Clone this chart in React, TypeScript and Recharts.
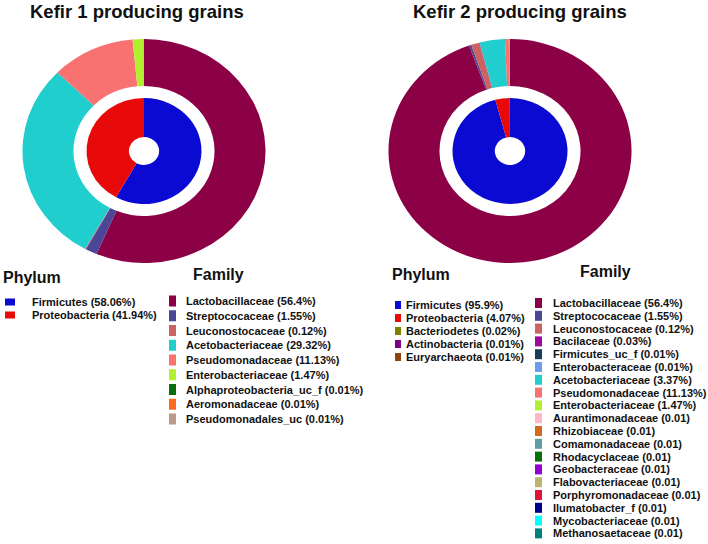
import React from 'react';
import { PieChart, Pie, Cell } from 'recharts';

// Kefir 1
const k1PhylumNames = ['Firmicutes (58.06%)', 'Proteobacteria (41.94%)'];
const k1PhylumValues = [58.06, 41.94];
const k1PhylumColors = ['#0a0ad2', '#e80a0a'];

const k1FamilyNames = [
    'Lactobacillaceae (56.4%)',
    'Streptococaceae (1.55%)',
    'Leuconostocaceae (0.12%)',
    'Acetobacteriaceae (29.32%)',
    'Pseudomonadaceae (11.13%)',
    'Enterobacteriaceae (1.47%)',
    'Alphaproteobacteria_uc_f (0.01%)',
    'Aeromonadaceae (0.01%)',
    'Pseudomonadales_uc (0.01%)',
];
const k1FamilyValues = [56.4, 1.55, 0.12, 29.32, 11.13, 1.47, 0.01, 0.01, 0.01];
const k1FamilyColors = ['#8c0046', '#4b4696', '#cc6262', '#20cece', '#f87272', '#b0f030', '#0a6e0a', '#ff6a20', '#bc9a88'];

// Kefir 2
const k2PhylumNames = [
    'Firmicutes (95.9%)',
    'Proteobacteria (4.07%)',
    'Bacteriodetes (0.02%)',
    'Actinobacteria (0.01%)',
    'Euryarchaeota (0.01%)',
];
const k2PhylumValues = [95.9, 4.07, 0.02, 0.01, 0.01];
const k2PhylumColors = ['#0a0ad2', '#e80a0a', '#808000', '#800080', '#8b4513'];

const k2FamilyNames = [
    'Lactobacillaceae (56.4%)',
    'Streptococaceae (1.55%)',
    'Leuconostocaceae (0.12%)',
    'Bacilaceae (0.03%)',
    'Firmicutes_uc_f (0.01%)',
    'Enterobacteraceae (0.01%)',
    'Acetobacteriaceae (3.37%)',
    'Pseudomonadaceae (11.13%)',
    'Enterobacteriaceae (1.47%)',
    'Aurantimonadaceae (0.01)',
    'Rhizobiaceae (0.01)',
    'Comamonadaceae (0.01)',
    'Rhodacyclaceae (0.01)',
    'Geobacteraceae (0.01)',
    'Flabovacteriaceae (0.01)',
    'Porphyromonadaceae (0.01)',
    'Ilumatobacter_f (0.01)',
    'Mycobacteriaceae (0.01)',
    'Methanosaetaceae (0.01)',
];
// values as drawn in the ring (not the legend text)
const k2FamilyValues = [94.5, 0.3, 1.1, 0.03, 0.01, 0.01, 3.37, 0.5, 0.05, 0.01, 0.01, 0.01, 0.01, 0.01, 0.01, 0.01, 0.01, 0.01, 0.01];
const k2FamilyColors = [
    '#8c0046', '#4b4696', '#cc6262', '#9a0aa0', '#153c5a', '#6b9cf0', '#20cece', '#f87272', '#b0f030',
    '#ffb6c8', '#d2691e', '#5f9ea0', '#0a700a', '#9400d3', '#bdb470', '#dc143c', '#00008b', '#00ffff', '#008080',
];

const FONT = '"Liberation Sans", Arial, sans-serif';

type DonutProps = {
    left: number;
    top: number;
    innerValues: number[];
    innerColors: string[];
    outerValues: number[];
    outerColors: string[];
};

const Donut: React.FC<DonutProps> = ({ left, top, innerValues, innerColors, outerValues, outerColors }) => {
    const inner = innerValues.map((value, i) => ({ name: `p${i}`, value }));
    const outer = outerValues.map((value, i) => ({ name: `f${i}`, value }));
    return (
        <div style={{ position: 'absolute', left, top, width: 260, height: 240, transform: 'scaleX(1.085)', transformOrigin: '130px 120px' }}>
            <PieChart width={260} height={240} margin={{ top: 0, right: 0, bottom: 0, left: 0 }}>
                <Pie data={inner} dataKey="value" cx={130} cy={120} innerRadius={14} outerRadius={53}
                    startAngle={90} endAngle={-270} stroke="none" isAnimationActive={false}>
                    {inner.map((_, i) => <Cell key={i} fill={innerColors[i]} stroke="none" />)}
                </Pie>
                <Pie data={outer} dataKey="value" cx={130} cy={120} innerRadius={65} outerRadius={112}
                    startAngle={90} endAngle={-270} stroke="none" isAnimationActive={false}>
                    {outer.map((_, i) => <Cell key={i} fill={outerColors[i]} stroke="none" />)}
                </Pie>
            </PieChart>
        </div>
    );
};

type LegendProps = {
    names: string[];
    colors: string[];
    boxX: number;
    textX: number;
    y0: number;
    step: number;
    boxW: number;
    boxH: number;
};

const LegendList: React.FC<LegendProps> = ({ names, colors, boxX, textX, y0, step, boxW, boxH }) => (
    <g>
        {names.map((n, i) => {
            const cy = y0 + i * step;
            return (
                <g key={n}>
                    <rect x={boxX} y={cy - boxH / 2} width={boxW} height={boxH} fill={colors[i]} />
                    <text x={textX} y={cy + 4} fontSize={11} fontWeight="bold" fill="#111">{n}</text>
                </g>
            );
        })}
    </g>
);

export default function App() {
    return (
        <div style={{ position: 'absolute', left: 0, top: 0, width: 708, height: 544, background: '#fff', fontFamily: FONT }}>
            <Donut left={13.5} top={31} innerValues={k1PhylumValues} innerColors={k1PhylumColors}
                outerValues={k1FamilyValues} outerColors={k1FamilyColors} />
            <Donut left={379.5} top={31} innerValues={k2PhylumValues} innerColors={k2PhylumColors}
                outerValues={k2FamilyValues} outerColors={k2FamilyColors} />
            <svg width={708} height={544} style={{ position: 'absolute', left: 0, top: 0, fontFamily: FONT }}>
                <text x={30} y={18} fontSize={18.5} fontWeight="bold" fill="#111">Kefir 1 producing grains</text>
                <text x={413} y={18} fontSize={18.5} fontWeight="bold" fill="#111">Kefir 2 producing grains</text>

                <text x={3} y={283} fontSize={16} fontWeight="bold" fill="#111">Phylum</text>
                <text x={193} y={280} fontSize={16} fontWeight="bold" fill="#111">Family</text>
                <text x={392} y={280} fontSize={16} fontWeight="bold" fill="#111">Phylum</text>
                <text x={580} y={277} fontSize={16} fontWeight="bold" fill="#111">Family</text>

                <LegendList names={k1PhylumNames} colors={k1PhylumColors} boxX={5} textX={32} y0={302} step={13} boxW={10} boxH={7} />
                <LegendList names={k1FamilyNames} colors={k1FamilyColors} boxX={169} textX={186} y0={301} step={14.75} boxW={7} boxH={11} />
                <LegendList names={k2PhylumNames} colors={k2PhylumColors} boxX={395} textX={406} y0={305} step={13} boxW={6} boxH={8} />
                <LegendList names={k2FamilyNames} colors={k2FamilyColors} boxX={535} textX={553} y0={303} step={12.8} boxW={7} boxH={10} />
            </svg>
        </div>
    );
}
